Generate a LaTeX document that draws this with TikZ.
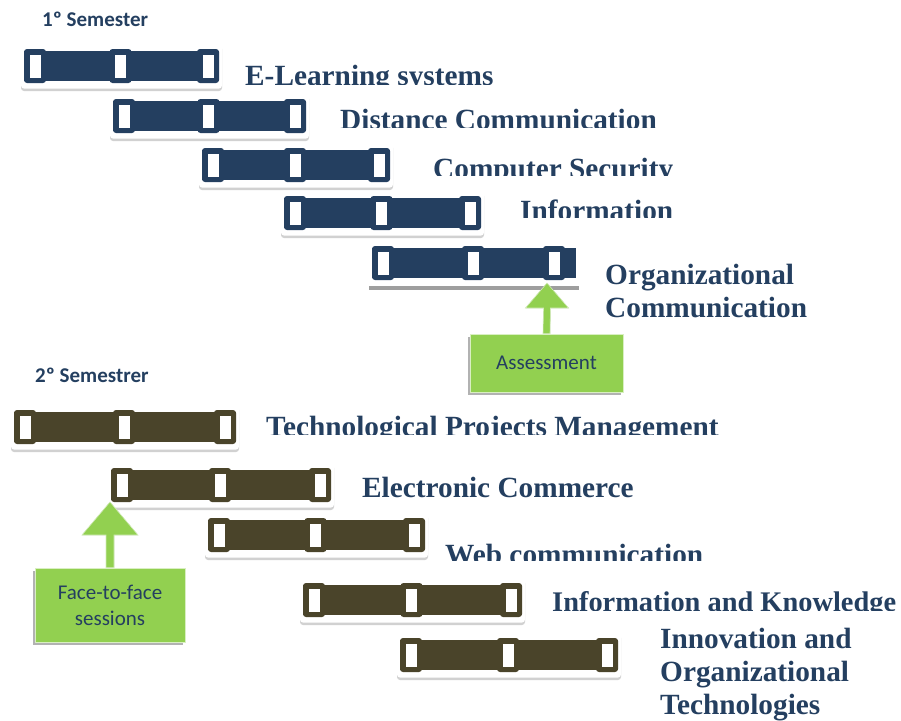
\documentclass[tikz,border=0pt]{standalone}
\usepackage{fontspec}
\setmainfont{Liberation Serif}
\newfontfamily\calfont{Carlito}
\usetikzlibrary{shadows,calc}
\definecolor{sone}{HTML}{243F60}
\definecolor{stwo}{HTML}{4A442A}
\definecolor{tblue}{HTML}{243F60}
\definecolor{grn}{HTML}{92D050}
\tikzset{
  card/.style={fill=white, rounded corners=3pt, inner sep=0pt,
    drop shadow={shadow xshift=0pt, shadow yshift=-2.5pt, fill=black, opacity=0.18}},
  cardhard/.style={fill=white, inner sep=0pt,
    drop shadow={shadow xshift=0pt, shadow yshift=-4pt, fill=black!38, opacity=1}},
  lbl/.style={anchor=base west, inner sep=0pt, text=tblue, align=left,
    font=\bfseries\fontsize{29.3}{33}\selectfont},
  lblnarrow/.style={lbl, font=\bfseries\fontsize{28.4}{33}\selectfont},
  hdr/.style={anchor=base west, inner sep=0pt, text=tblue,
    font=\calfont\bfseries\fontsize{21}{24}\selectfont},
  gbox/.style={fill=grn, draw=white!65!grn, line width=0.8pt, inner sep=0pt,
    text=tblue, align=center, font=\calfont\fontsize{21}{26}\selectfont,
    drop shadow={shadow xshift=-2pt, shadow yshift=-3pt, fill=black, opacity=0.3}},
  blockarr/.style={fill=grn, draw=white!60!grn, line width=0.6pt},
  arrshadow/.style={fill=black, opacity=0.25, xshift=1.5pt, yshift=-2.5pt},
}
% name, x0, x1, yc, colour, right frame end, card style
\newcommand\cbar[7]{%
  \node[#7, minimum width={#3-#2+6}, minimum height=45] (#1) at ({(#2+#3)/2},#4) {};
  \fill[#5] (#2,#4-15) rectangle (#3,#4+15);
  \pgfmathsetmacro\cbxm{(#2+#3)/2-12}%
  \pgfmathsetmacro\cbxr{#6-22}%
  \foreach \fx in {#2,\cbxm,\cbxr} {
    \fill[#5, rounded corners=3pt] (\fx,#4-17) rectangle ({\fx+22},#4+17);
    \fill[white] ({\fx+5.5},#4-11.5) rectangle ({\fx+16.5},#4+11.5);
  }
}
% style, name, x, baseline, clip bottom, text
\newcommand\clab[6]{%
  \begin{scope}
    \clip (#3-5,#4-45) rectangle (901,#5);
    \node[#1] (#2) at (#3,#4) {#6};
  \end{scope}
}
% from node, tip coordinate, half shaft, half head, head length, style
\newcommand\barrow[6]{%
  \path[#6] ($(#1.north)+(-#3,0)$) -- ($(#2)+(-#3,#5)$) -- ($(#2)+(-#4,#5)$) -- (#2)
    -- ($(#2)+(#4,#5)$) -- ($(#2)+(#3,#5)$) -- ($(#1.north)+(#3,0)$) -- cycle;
}
\begin{document}
\begin{tikzpicture}[x=1pt,y=-1pt]
\useasboundingbox[fill=white] (0,0) rectangle (901,720);

% ---- 1st semester
\node[hdr] (h1) at (42,27) {1º Semester};
\cbar{s1a}{24}{219}{66}{sone}{219}{card}
\cbar{s1b}{113}{306}{116}{sone}{306}{card}
\cbar{s1c}{202}{390}{165}{sone}{390}{card}
\cbar{s1d}{284}{481}{213}{sone}{481}{card}
\cbar{s1e}{372}{576}{263}{sone}{565}{cardhard}

\clab{lbl}{l1a}{245}{85}{84}{E-Learning systems}
\clab{lbl}{l1b}{340}{129}{127}{Distance Communication}
\clab{lbl}{l1c}{433}{178}{175}{Computer Security}
\clab{lbl}{l1d}{520}{220}{217}{Information}
\node[lbl] (l1e) at (605,317) {Organizational\\Communication};

\node[gbox, minimum width=153, minimum height=58] (ass) at (546.5,363) {Assessment};
\coordinate (atip) at (547,283);
\barrow{ass}{atip}{3.5}{21.5}{25}{arrshadow}
\barrow{ass}{atip}{3.5}{21.5}{25}{blockarr}

% ---- 2nd semester
\node[hdr] (h2) at (35,382) {2º Semestrer};
\cbar{s2a}{14}{236}{427}{stwo}{236}{card}
\cbar{s2b}{111}{331}{485}{stwo}{331}{card}
\cbar{s2c}{208}{425}{535}{stwo}{425}{card}
\cbar{s2d}{303}{522}{600}{stwo}{522}{card}
\cbar{s2e}{400}{618}{655}{stwo}{618}{card}

\clab{lbl}{l2a}{266}{436}{434}{Technological Projects Management}
\node[lbl] (l2b) at (362,497) {Electronic Commerce};
\clab{lbl}{l2c}{445}{564}{560}{Web communication}
\clab{lblnarrow}{l2d}{552}{611}{610}{Information and Knowledge}
\node[lbl] (l2e) at (660,714) {Innovation and\\Organizational\\Technologies};

\node[gbox, minimum width=150, minimum height=74] (face) at (110,605) {Face-to-face\\sessions};
\coordinate (ftip) at (110,502);
\barrow{face}{ftip}{4}{28}{33}{arrshadow}
\barrow{face}{ftip}{4}{28}{33}{blockarr}
\end{tikzpicture}
\end{document}
